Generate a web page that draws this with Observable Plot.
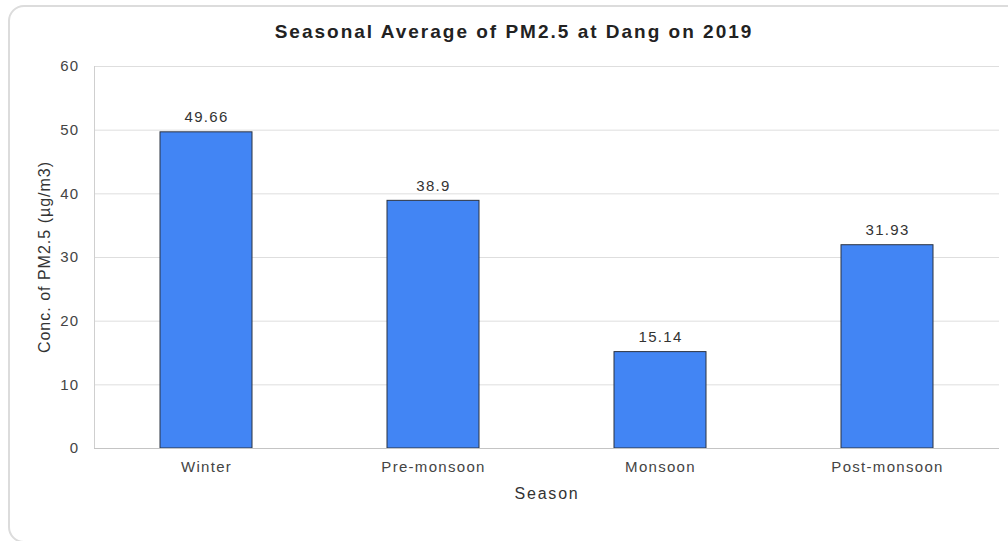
<!DOCTYPE html>
<html>
<head>
<meta charset="utf-8">
<script src="https://cdn.jsdelivr.net/npm/d3@7"></script>
<script src="https://cdn.jsdelivr.net/npm/@observablehq/plot@0.6"></script>
<style>
  html, body { margin: 0; padding: 0; background: #fff; overflow: hidden; }
  #wrap { position: relative; width: 1008px; height: 541px; overflow: hidden; font-family: "Liberation Sans", Arial, sans-serif; }
  #border { position: absolute; left: 8px; top: 5px; width: 1100px; height: 534px; border: 2px solid #dcdcdc; border-radius: 16px; box-sizing: content-box; }
  #chart { position: absolute; left: 0; top: 0; }
  .txt { position: absolute; white-space: nowrap; line-height: 1; }
  #title { left: 514px; top: 22px; transform: translateX(-50%); font-size: 19px; font-weight: bold; letter-spacing: 2px; color: #222; }
  #xlabel { left: 547px; top: 486px; transform: translateX(-50%); font-size: 16px; letter-spacing: 1.8px; color: #333; }
  #ylabel { left: 45px; top: 257px; transform: translate(-50%, -50%) rotate(-90deg); font-size: 16px; letter-spacing: 1px; color: #333; }
</style>
</head>
<body>
<div id="wrap">
  <div id="border"></div>
  <div id="chart"></div>
  <div class="txt" id="title">Seasonal Average of PM2.5 at Dang on 2019</div>
  <div class="txt" id="xlabel">Season</div>
  <div class="txt" id="ylabel">Conc. of PM2.5 (µg/m3)</div>
</div>
<script>
const seasons = ["Winter", "Pre-monsoon", "Monsoon", "Post-monsoon"];
const pm25 = [49.66, 38.9, 15.14, 31.93];
const yTicks = [0, 10, 20, 30, 40, 50, 60];

const data = seasons.map((s, i) => ({season: s, value: pm25[i]}));

const chart = Plot.plot({
  width: 1008,
  height: 541,
  marginTop: 66,
  marginBottom: 93,
  marginLeft: 94,
  marginRight: 9,
  style: {
    fontFamily: "'Liberation Sans', Arial, sans-serif",
    fontSize: "15px",
    letterSpacing: "1.3px",
    background: "transparent",
    color: "#444"
  },
  x: {domain: seasons, paddingInner: 0.594, paddingOuter: 0.285, label: null},
  y: {domain: [0, 60], label: null},
  marks: [
    Plot.gridY(yTicks, {stroke: "#dedede", strokeOpacity: 1}),
    Plot.frame({anchor: "left", stroke: "#cfcfcf"}),
    Plot.axisY({ticks: yTicks, tickSize: 0, tickPadding: 15, label: null, fill: "#444"}),
    Plot.axisX({tickSize: 0, tickPadding: 13, label: null, fill: "#444"}),
    Plot.barY(data, {x: "season", y: "value", fill: "#4285f4", stroke: "#2b3340", strokeWidth: 1}),
    Plot.ruleY([0], {stroke: "#c4c4c4"}),
    Plot.text(data, {x: "season", y: "value", text: d => String(d.value), dy: -15, fill: "#333"})
  ]
});
document.getElementById("chart").appendChild(chart);
</script>
</body>
</html>
